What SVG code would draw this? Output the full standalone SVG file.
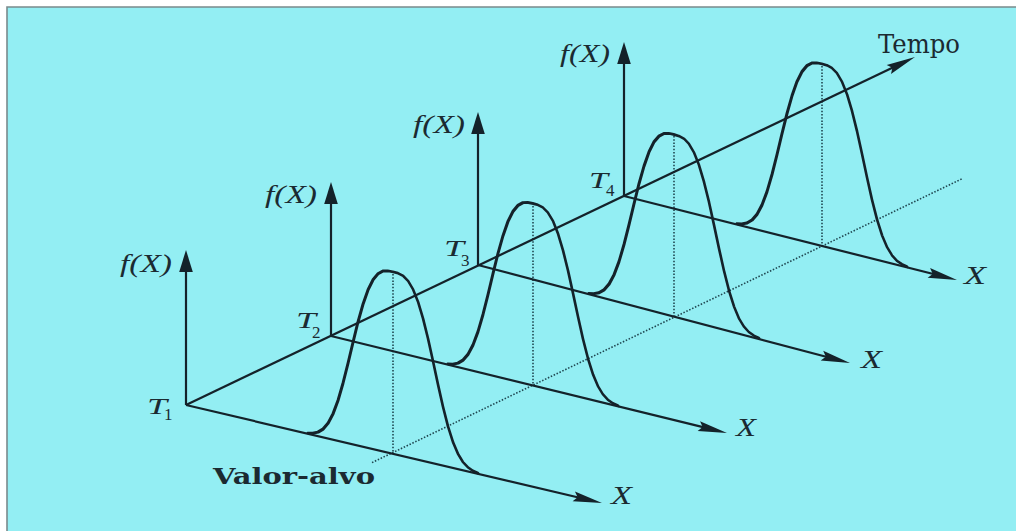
<svg xmlns="http://www.w3.org/2000/svg" width="1016" height="531" viewBox="0 0 1016 531">
<style>
.ax{stroke:#14222a;stroke-width:2.2;fill:none}
.cv{stroke:#14222a;stroke-width:2.8;fill:none;stroke-linejoin:round;stroke-linecap:round}
.dt{stroke:#1f4650;stroke-width:1.6;fill:none;stroke-dasharray:1.5 1.7}
.it{font-family:"Liberation Serif",serif;font-style:italic;fill:#1b2a31}
.sb{font-family:"Liberation Serif",serif;fill:#1b2a31}
.rm{font-family:"DejaVu Serif",serif;fill:#1b2a31}
</style>
<defs>
<marker id="av" markerUnits="userSpaceOnUse" orient="auto" overflow="visible" refX="0" refY="0" markerWidth="1" markerHeight="1">
<path d="M8,0 L-14,-6.8 L-14,6.8 Z" fill="#14222a"/>
</marker>
<marker id="ax" markerUnits="userSpaceOnUse" orient="auto" overflow="visible" refX="0" refY="0" markerWidth="1" markerHeight="1">
<path d="M10,0 L-19,-5 L-15,0 L-19,5 Z" fill="#14222a"/>
</marker>
<path id="bell" d="M-85,-0.7 L-80,-1.8 L-75,-4 L-70,-8.2 L-65,-15.2 L-60,-25.8 L-55,-40.4 L-50,-58.8 L-45,-79.9 L-40,-102.1 L-35,-123.6 L-30,-142.5 L-25,-158 L-20,-169.3 L-15,-176.5 L-10,-180.4 L-5,-181.8 L0,-182 L5,-181.8 L10,-180.4 L15,-176.5 L20,-169.3 L25,-158 L30,-142.5 L35,-123.6 L40,-102.1 L45,-79.9 L50,-58.8 L55,-40.4 L60,-25.8 L65,-15.2 L70,-8.2 L75,-4 L80,-1.8 L85,-0.7"/>
</defs>
<rect x="0" y="0" width="1016" height="531" fill="#ffffff"/>
<rect x="7" y="7" width="1009" height="524" fill="#93eef3"/>
<path d="M7,531 L7,7 L1016,7" stroke="#7a8a8c" stroke-width="1.6" fill="none"/>

<g id="dotted">
<line class="dt" x1="372" y1="462.6" x2="963" y2="178.3"/>
<line class="dt" x1="393" y1="274" x2="393" y2="453.8"/>
<line class="dt" x1="533" y1="206" x2="533" y2="385.5"/>
<line class="dt" x1="674" y1="136" x2="674" y2="316.5"/>
<line class="dt" x1="822" y1="66" x2="822" y2="245.9"/>
</g>

<g id="connectors">
<line class="ax" x1="186" y1="405" x2="905.98" y2="61.31" marker-end="url(#ax)"/>
<line class="ax" x1="186" y1="405" x2="186" y2="258" marker-end="url(#av)"/>
<line class="ax" x1="331" y1="336" x2="331" y2="190" marker-end="url(#av)"/>
<line class="ax" x1="478" y1="265" x2="478" y2="120" marker-end="url(#av)"/>
<line class="ax" x1="624" y1="196" x2="624" y2="50" marker-end="url(#av)"/>
<line class="ax" x1="186" y1="405" x2="592.27" y2="500.71" marker-end="url(#ax)"/>
<line class="ax" x1="331" y1="336" x2="717.29" y2="430.62" marker-end="url(#ax)"/>
<line class="ax" x1="478" y1="265" x2="840.33" y2="360.45" marker-end="url(#ax)"/>
<line class="ax" x1="624" y1="196" x2="947.3" y2="277.55" marker-end="url(#ax)"/>
</g>

<g id="curve1"><use href="#bell" class="cv" transform="matrix(1,0.2356,0,1,393,453.8)"/></g>
<g id="curve2"><use href="#bell" class="cv" transform="matrix(1,0.245,0,1,533,385.5)"/></g>
<g id="curve3"><use href="#bell" class="cv" transform="matrix(1,0.263,0,1,674,316.5)"/></g>
<g id="curve4"><use href="#bell" class="cv" transform="matrix(1,0.252,0,1,822,245.9)"/></g>

<g id="labels">
<text class="it" x="120" y="272" font-size="25" textLength="52" lengthAdjust="spacingAndGlyphs">f(X)</text>
<text class="it" x="265" y="203" font-size="25" textLength="52" lengthAdjust="spacingAndGlyphs">f(X)</text>
<text class="it" x="413" y="133" font-size="25" textLength="52" lengthAdjust="spacingAndGlyphs">f(X)</text>
<text class="it" x="560" y="62" font-size="25" textLength="50" lengthAdjust="spacingAndGlyphs">f(X)</text>

<text class="it" x="147" y="414" font-size="24" textLength="20" lengthAdjust="spacingAndGlyphs">T</text>
<text class="sb" x="164" y="420" font-size="17">1</text>
<text class="it" x="296" y="328" font-size="24" textLength="20" lengthAdjust="spacingAndGlyphs">T</text>
<text class="sb" x="312" y="338" font-size="17">2</text>
<text class="it" x="444" y="256" font-size="24" textLength="20" lengthAdjust="spacingAndGlyphs">T</text>
<text class="sb" x="461" y="266" font-size="17">3</text>
<text class="it" x="589" y="188" font-size="24" textLength="19" lengthAdjust="spacingAndGlyphs">T</text>
<text class="sb" x="606" y="196" font-size="17">4</text>

<text class="it" x="611" y="504" font-size="26" textLength="21" lengthAdjust="spacingAndGlyphs">X</text>
<text class="it" x="736" y="436" font-size="26" textLength="20" lengthAdjust="spacingAndGlyphs">X</text>
<text class="it" x="861" y="368" font-size="26" textLength="21" lengthAdjust="spacingAndGlyphs">X</text>
<text class="it" x="964" y="284" font-size="26" textLength="22" lengthAdjust="spacingAndGlyphs">X</text>

<text class="rm" x="878" y="53" font-size="26" textLength="82" lengthAdjust="spacingAndGlyphs">Tempo</text>
<text class="rm" x="213" y="484" font-size="23" font-weight="bold" textLength="162" lengthAdjust="spacingAndGlyphs">Valor-alvo</text>
</g>
</svg>
